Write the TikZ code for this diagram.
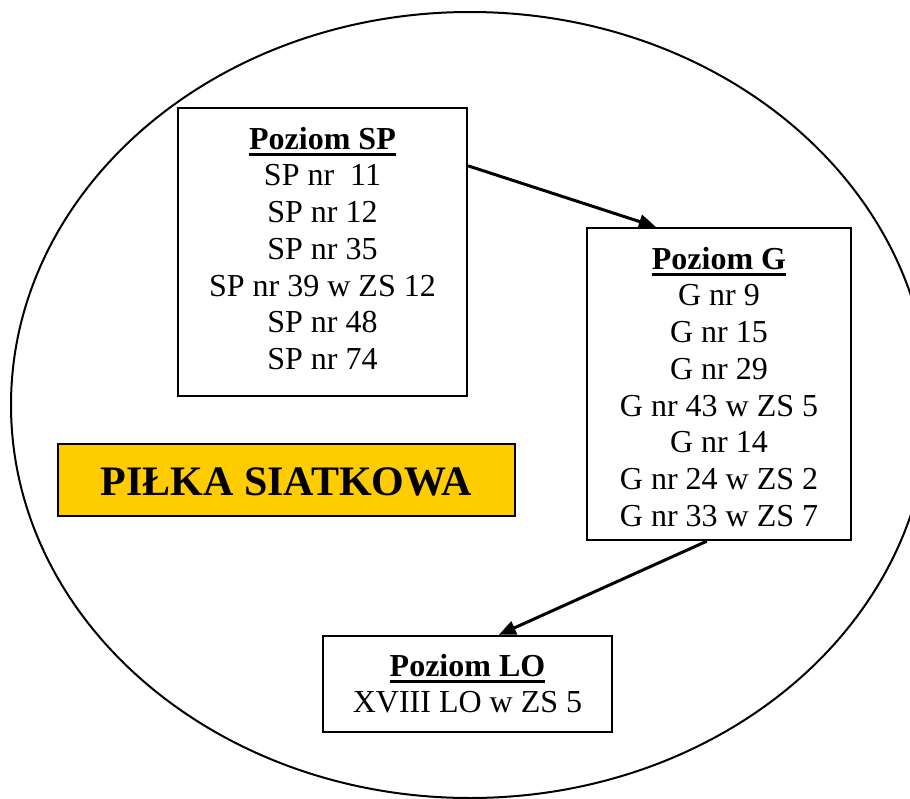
\documentclass[tikz,border=0pt]{standalone}
\usepackage{fontspec}
\setmainfont{Liberation Serif}
\usetikzlibrary{arrows.meta}
\definecolor{gold}{HTML}{FFCC00}
\newcommand\headul[1]{\setbox0\hbox{\bfseries #1}\rlap{\rule[-6.3pt]{\wd0}{3pt}}\box0}
\tikzset{
  boxnode/.style={draw=black, line width=2.3pt, rectangle, inner sep=0pt},
  listtext/.style={align=center, inner sep=0pt, anchor=north,
    font=\fontsize{32}{36.7}\selectfont},
  conn/.style={line width=3pt, -{Triangle[length=17pt,width=14pt]}},
}
\begin{document}
\begin{tikzpicture}[x=1pt,y=-1pt]
\useasboundingbox (0,0) rectangle (910,798);
\fill[white] (0,0) rectangle (910,798);
\draw[line width=2pt] (470,405) ellipse [x radius=459pt, y radius=393pt];

% SP box
\node[boxnode, minimum width=289pt, minimum height=288pt] (sp) at (322.5,252) {};
\node[listtext] (sptext) at (322.5,126.8) {\headul{Poziom SP}\\SP nr~~11\\SP nr 12\\SP nr 35\\SP nr 39 w ZS 12\\SP nr 48\\SP nr 74};

% G box
\node[boxnode, minimum width=264pt, minimum height=312pt] (g) at (719,384) {};
\node[listtext] (gtext) at (719,246.8) {\headul{Poziom G}\\G nr 9\\G nr 15\\G nr 29\\G nr 43 w ZS 5\\G nr 14\\G nr 24 w ZS 2\\G nr 33 w ZS 7};

% LO box
\node[boxnode, minimum width=289pt, minimum height=96pt] (lo) at (467.5,684) {};
\node[listtext] (lotext) at (467.5,653.8) {\headul{Poziom LO}\\XVIII LO w ZS 5};

% title
\node[boxnode, fill=gold, minimum width=457pt, minimum height=72pt] (title) at (286.5,480) {};
\node[inner sep=0pt, anchor=base, font=\fontsize{42}{48}\selectfont\bfseries] (titletext) at (286.5,495) {PIŁKA SIATKOWA};

% connectors
\draw[conn] ([yshift=-59pt]sp.north east) -- ([xshift=70pt]g.north west);
\draw[conn] ([xshift=121pt]g.south west) -- ([xshift=177pt]lo.north west);
\end{tikzpicture}
\end{document}
